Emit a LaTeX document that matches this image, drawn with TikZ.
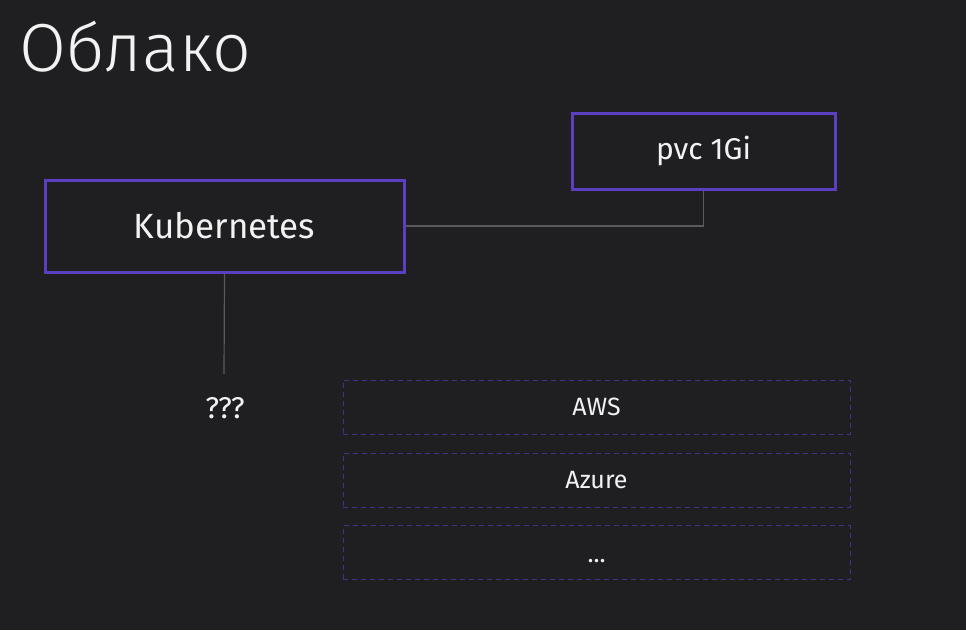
\documentclass[tikz,border=0pt]{standalone}
\usepackage{fontspec}
\setmainfont{Fira Sans}
\newfontfamily\titlefont[UprightFont={* Light}]{Fira Sans}
\definecolor{bg}{HTML}{1F1F22}
\definecolor{purp}{HTML}{5A3FC0}
\definecolor{dpurp}{HTML}{43308A}
\definecolor{wire}{HTML}{5A5A5E}
\definecolor{txt}{HTML}{F2F2F2}
\tikzset{
  solidbox/.style={draw=purp, line width=3pt, fill=bg, text=txt, inner sep=0pt},
  dashbox/.style={draw=dpurp, line width=1pt, dash pattern=on 5pt off 4pt, text=txt, inner sep=0pt, minimum width=507pt, minimum height=54pt, font=\fontsize{25}{30}\selectfont},
  wireline/.style={draw=wire, line width=1.2pt},
}
\begin{document}
\begin{tikzpicture}[x=1pt,y=-1pt]
\fill[bg] (0,0) rectangle (966,630);
\useasboundingbox (0,0) rectangle (966,630);
\node[anchor=base west, text=txt, font=\titlefont\fontsize{68}{76}\selectfont, inner sep=0pt] (title) at (19,71) {Облако};
\node[solidbox, minimum width=359pt, minimum height=92pt, font=\fontsize{35}{40}\selectfont] (k8s) at (224.5,226) {Kubernetes};
\node[solidbox, minimum width=263pt, minimum height=76pt, font=\fontsize{30}{36}\selectfont] (pvc) at (703.5,151) {pvc 1Gi};
\coordinate (qtop) at (224,374);
\node[text=txt, font=\fontsize{30}{36}\selectfont, inner sep=0pt] (q) at (225,408) {???};
\draw[wireline] (k8s.east) -| (pvc.south);
\draw[wireline] (k8s.south) -- (qtop);
\node[dashbox] (aws) at (596.5,407) {AWS};
\node[dashbox] (azure) at (596.5,480) {Azure};
\node[dashbox, text height=20pt, text depth=0pt] (more) at (596.5,552.5) {...};
\end{tikzpicture}
\end{document}
